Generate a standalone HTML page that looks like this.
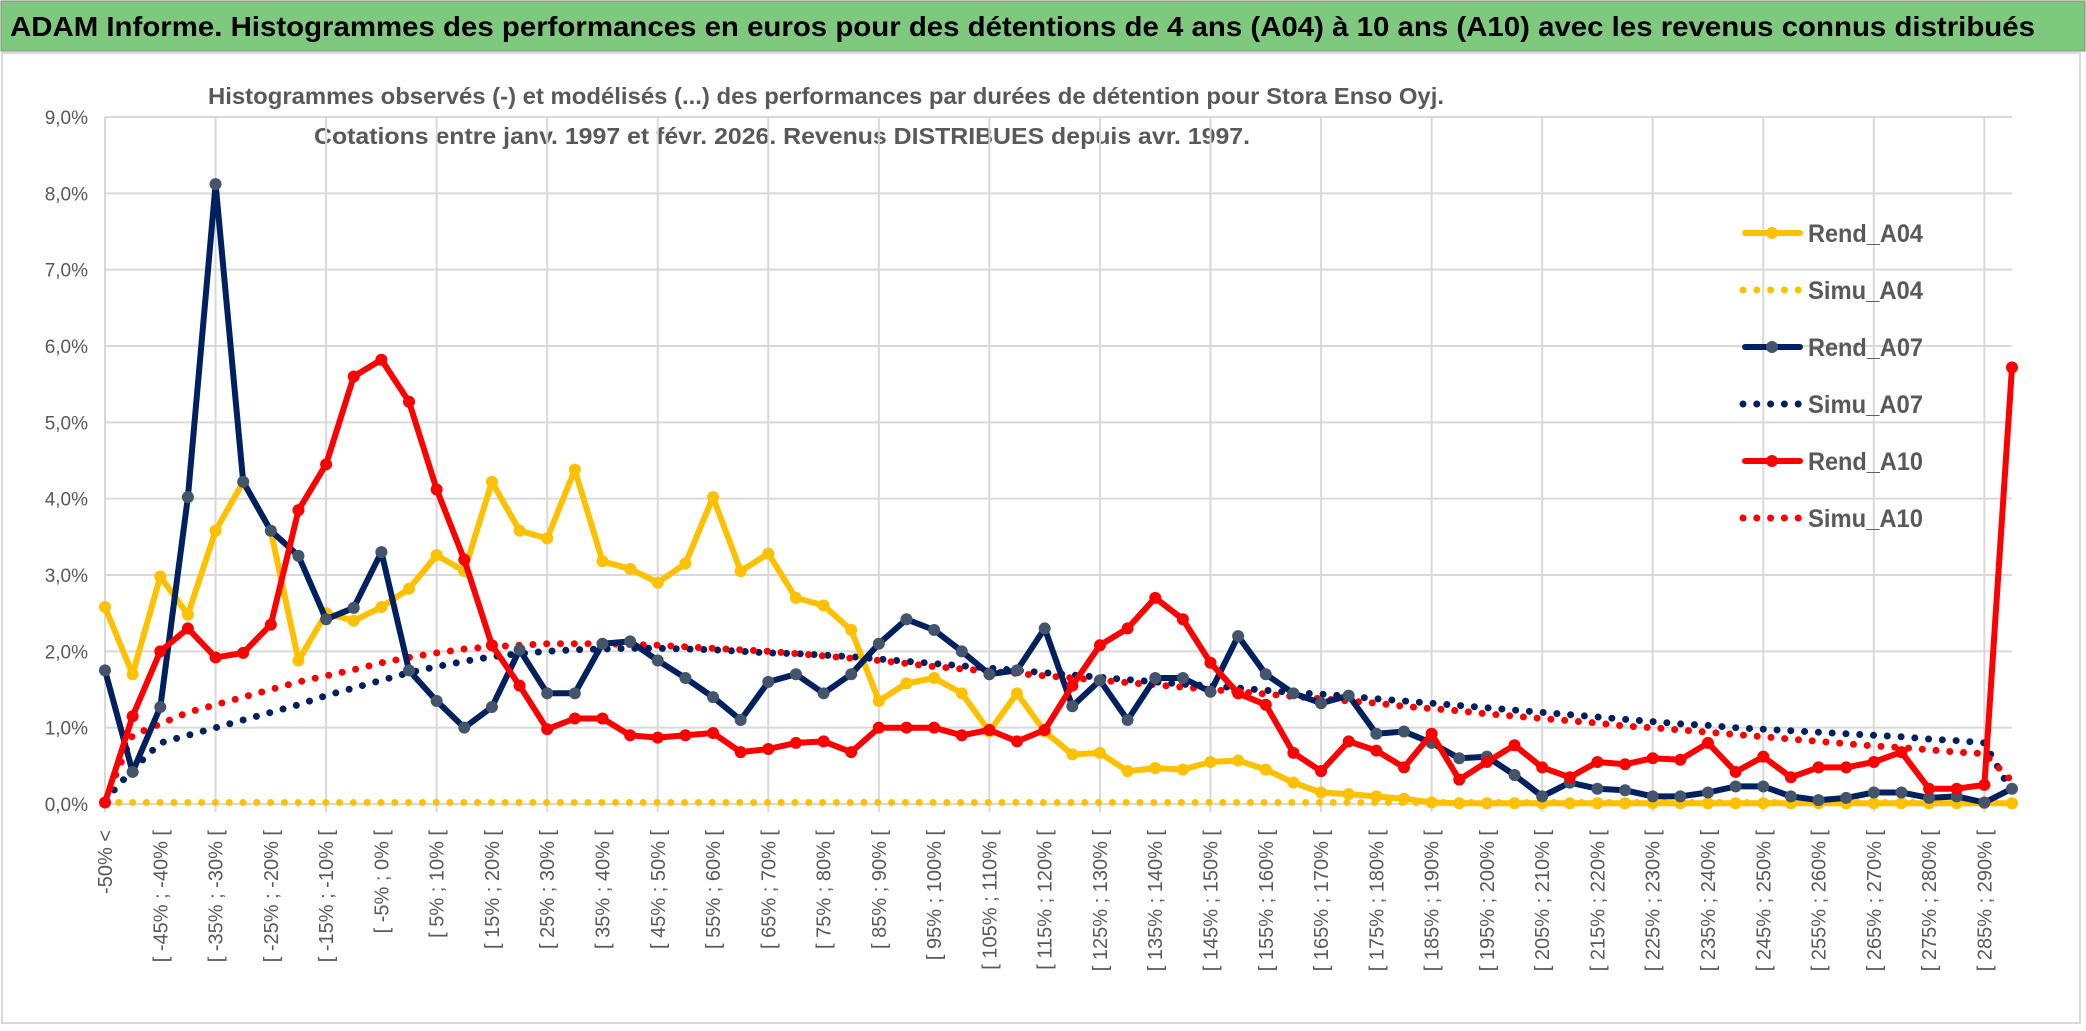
<!DOCTYPE html>
<html><head><meta charset="utf-8"><style>
html,body{margin:0;padding:0;background:#fff;}
svg{display:block;font-family:"Liberation Sans",sans-serif;}
</style></head><body>
<svg id="chart" width="2086" height="1031" viewBox="0 0 2086 1031" xmlns="http://www.w3.org/2000/svg">
<rect x="0" y="0" width="2086" height="1031" fill="#fff"/>
<rect x="1" y="1" width="2084" height="50" fill="#7fc97f" stroke="#888" stroke-width="1"/>
<text x="10" y="36" font-size="28" font-weight="bold" fill="#000" textLength="2025" lengthAdjust="spacingAndGlyphs">ADAM Informe. Histogrammes des performances en euros pour des détentions de 4 ans (A04) à 10 ans (A10) avec les revenus connus distribués</text>
<rect x="2" y="53" width="2078" height="970" fill="#fff" stroke="#d9d9d9" stroke-width="2"/>
<text x="826" y="104" font-size="23" font-weight="bold" fill="#595959" text-anchor="middle" textLength="1236" lengthAdjust="spacingAndGlyphs">Histogrammes observés (-) et modélisés (...) des performances par durées de détention pour Stora Enso Oyj.</text>
<text x="782" y="144" font-size="23" font-weight="bold" fill="#595959" text-anchor="middle" textLength="936" lengthAdjust="spacingAndGlyphs">Cotations entre janv. 1997 et févr. 2026. Revenus DISTRIBUES depuis avr. 1997.</text>
<g id="grid"></g><g id="ylabels"></g><g id="xlabels"></g><g id="series"></g><g id="legend"></g>
</svg>
<script>
const categories = ["-50% <"];
for (let k = 1; k < 70; k++) { const a = -55 + 5*k; categories.push("[ " + a + "% ; " + (a+5) + "% ["); }
const yTicks = [0,1,2,3,4,5,6,7,8,9];
const rendA04 = [2.58,1.7,2.98,2.48,3.58,4.22,3.58,1.88,2.5,2.4,2.58,2.82,3.26,3.05,4.22,3.58,3.48,4.38,3.18,3.08,2.9,3.15,4.02,3.05,3.28,2.7,2.6,2.28,1.35,1.58,1.65,1.45,0.95,1.45,0.95,0.65,0.67,0.43,0.47,0.45,0.55,0.57,0.45,0.28,0.15,0.13,0.1,0.07,0.02,0.01,0.01,0.01,0.01,0.01,0.01,0.01,0.01,0.01,0.01,0.01,0.01,0.01,0.01,0.01,0.01,0.01,0.01,0.01,0.01,0.01];
const simuA04 = [0.02,0.02,0.02,0.02,0.02,0.02,0.02,0.02,0.02,0.02,0.02,0.02,0.02,0.02,0.02,0.02,0.02,0.02,0.02,0.02,0.02,0.02,0.02,0.02,0.02,0.02,0.02,0.02,0.02,0.02,0.02,0.02,0.02,0.02,0.02,0.02,0.02,0.02,0.02,0.02,0.02,0.02,0.02,0.02,0.02,0.02,0.02,0.02,0.02,0.02,0.02,0.02,0.02,0.02,0.02,0.02,0.02,0.02,0.02,0.02,0.02,0.02,0.02,0.02,0.02,0.02,0.02,0.02,0.02,0.02];
const rendA07 = [1.75,0.42,1.27,4.02,8.12,4.22,3.58,3.25,2.42,2.57,3.3,1.75,1.35,1.0,1.27,2.02,1.45,1.45,2.1,2.13,1.88,1.65,1.4,1.1,1.6,1.7,1.45,1.7,2.1,2.42,2.28,2.0,1.7,1.75,2.3,1.28,1.62,1.1,1.65,1.65,1.47,2.2,1.7,1.45,1.32,1.42,0.92,0.95,0.8,0.6,0.62,0.38,0.1,0.28,0.2,0.18,0.1,0.1,0.15,0.23,0.23,0.1,0.05,0.08,0.15,0.15,0.08,0.1,0.02,0.2];
const simuA07 = [0.05,0.45,0.8,0.9,1.0,1.1,1.2,1.3,1.42,1.52,1.62,1.72,1.8,1.87,1.93,1.97,2.0,2.02,2.03,2.04,2.04,2.03,2.02,2.0,1.98,1.97,1.95,1.93,1.9,1.87,1.84,1.81,1.78,1.75,1.72,1.69,1.66,1.63,1.6,1.57,1.55,1.52,1.49,1.46,1.44,1.41,1.38,1.35,1.32,1.29,1.26,1.23,1.2,1.17,1.14,1.11,1.08,1.05,1.03,1.0,0.98,0.96,0.94,0.92,0.9,0.88,0.85,0.83,0.8,0.15];
const rendA10 = [0.02,1.15,2.0,2.3,1.92,1.98,2.35,3.85,4.45,5.6,5.82,5.27,4.12,3.2,2.08,1.55,0.98,1.12,1.12,0.9,0.87,0.9,0.93,0.68,0.72,0.8,0.82,0.68,1.0,1.0,1.0,0.9,0.97,0.82,0.97,1.55,2.08,2.3,2.7,2.42,1.85,1.45,1.3,0.67,0.43,0.82,0.7,0.48,0.92,0.32,0.55,0.77,0.48,0.35,0.55,0.52,0.6,0.58,0.8,0.42,0.62,0.35,0.48,0.48,0.55,0.68,0.2,0.2,0.25,5.72];
const simuA10 = [0.05,0.9,1.05,1.2,1.3,1.4,1.5,1.6,1.68,1.76,1.85,1.92,1.98,2.03,2.06,2.08,2.1,2.1,2.1,2.09,2.08,2.06,2.04,2.02,2.0,1.97,1.94,1.91,1.88,1.84,1.8,1.77,1.74,1.71,1.68,1.65,1.62,1.59,1.56,1.53,1.5,1.47,1.44,1.41,1.38,1.35,1.32,1.28,1.25,1.22,1.18,1.15,1.12,1.09,1.06,1.02,1.0,0.97,0.94,0.91,0.88,0.85,0.82,0.79,0.76,0.74,0.71,0.68,0.66,0.3];

const NS = "http://www.w3.org/2000/svg";
const X0 = 105, X1 = 2012, Y0 = 804, Y9 = 117;
const xScale = i => X0 + i * (X1 - X0) / (categories.length - 1);
const yScale = v => Y0 - v * (Y0 - Y9) / 9;
function mk(tag, attrs, parent){ const e = document.createElementNS(NS, tag); for (const k in attrs) e.setAttribute(k, attrs[k]); parent.appendChild(e); return e; }

const grid = document.getElementById("grid");
yTicks.forEach(t => {
  const l = mk("line", {x1: X0, x2: X1, y1: yScale(t), y2: yScale(t), stroke: "#d9d9d9", "stroke-width": 2}, grid);
  
  
  const tx = mk("text", {x: 88, y: yScale(t) + 7, "font-size": 19, fill: "#595959", "text-anchor": "end"}, document.getElementById("ylabels"));
  tx.textContent = t.toFixed(1).replace(".", ",") + "%";
  
  
});
for (let i = 0; i < categories.length; i += 4) {
  const l = mk("line", {x1: xScale(i), x2: xScale(i), y1: Y9, y2: Y0 + 8, stroke: "#d9d9d9", "stroke-width": 2}, grid);
  
  
}
const xl = document.getElementById("xlabels");
for (let i = 0; i < categories.length; i += 2) {
  const x = xScale(i) + 7, y = 830;
  const tx = mk("text", {x: x, y: y, "font-size": 20, fill: "#595959", "text-anchor": "end", transform: "rotate(-90 " + x + " " + y + ")"}, xl);
  tx.textContent = categories[i];
  
  
}

const sg = document.getElementById("series");
function pts(arr){ return arr.map((v, i) => xScale(i).toFixed(1) + "," + yScale(v).toFixed(1)).join(" "); }
function dotted(arr, color, name){
  const p = mk("polyline", {points: pts(arr), fill: "none", stroke: color, "stroke-width": 7, "stroke-linecap": "round", "stroke-dasharray": "0 13.8"}, sg);
  
  
}
function solid(arr, color, mcolor, name){
  const p = mk("polyline", {points: pts(arr), fill: "none", stroke: color, "stroke-width": 6, "stroke-linejoin": "round"}, sg);
  
  
  arr.forEach((v, i) => {
    const c = mk("circle", {cx: xScale(i), cy: yScale(v), r: 6, fill: mcolor}, sg);
    
    
  });
}
dotted(simuA04, "#ffc000", "simu-a04-line");
dotted(simuA07, "#002060", "simu-a07-line");
dotted(simuA10, "#ff0000", "simu-a10-line");
solid(rendA04, "#ffc000", "#ffc000", "rend-a04-line");
solid(rendA07, "#002060", "#44546a", "rend-a07-line");
solid(rendA10, "#ff0000", "#ff0000", "rend-a10-line");

const legendNames = ["Rend_A04","Simu_A04","Rend_A07","Simu_A07","Rend_A10","Simu_A10"];
const legendColors = ["#ffc000","#ffc000","#002060","#002060","#ff0000","#ff0000"];
const lg = document.getElementById("legend");
legendNames.forEach((n, i) => {
  const y = 233 + i * 57;
  const g = mk("g", {}, lg);
  
  
  if (i % 2 === 0) {
    mk("line", {x1: 1745, x2: 1800, y1: y, y2: y, stroke: legendColors[i], "stroke-width": 6, "stroke-linecap": "round"}, g);
    mk("circle", {cx: 1772, cy: y, r: 6, fill: i === 2 ? "#44546a" : legendColors[i]}, g);
  } else {
    mk("line", {x1: 1743, x2: 1800, y1: y, y2: y, stroke: legendColors[i], "stroke-width": 7, "stroke-linecap": "round", "stroke-dasharray": "0 13.8"}, g);
  }
  const t = mk("text", {x: 1808, y: y + 9, "font-size": 25, fill: "#595959", "font-weight": "bold", textLength: 115, lengthAdjust: "spacingAndGlyphs"}, g);
  t.textContent = n;
});
</script>
</body></html>
